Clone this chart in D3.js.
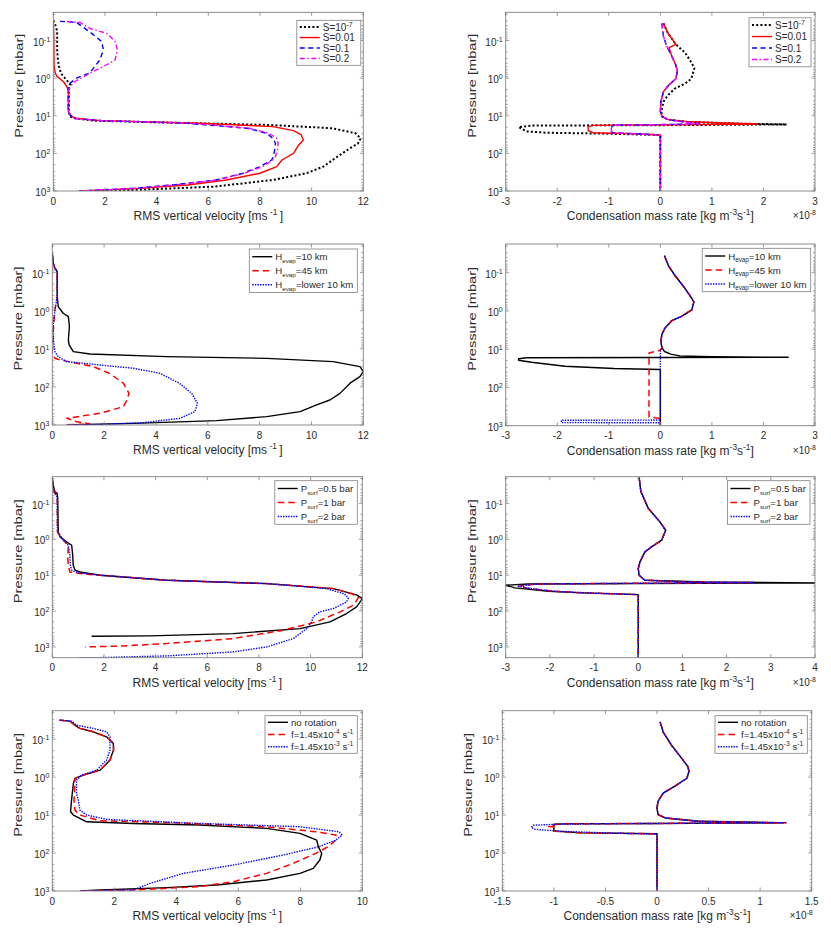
<!DOCTYPE html>
<html><head><meta charset="utf-8">
<script src="https://cdn.jsdelivr.net/npm/d3@7"></script>
<style>
body{margin:0;background:#fff}
svg{display:block}
text{font-family:"Liberation Sans",Arial,Helvetica,sans-serif;fill:#2b2b2b}
</style>
</head><body>
<svg id="c" width="831" height="941"></svg>
<script>
// ---------------- tick values ----------------
const pressureTicks = [0.1, 1, 10, 100, 1000];
const pressureExps = ["-1", "0", "1", "2", "3"];
const velTicks12 = [0, 2, 4, 6, 8, 10, 12];
const velTicks10 = [0, 2, 4, 6, 8, 10];
const condTicks3 = [-3, -2, -1, 0, 1, 2, 3];
const condTicks4 = [-3, -2, -1, 0, 1, 2, 3, 4];
const condTicks15 = [-1.5, -1, -0.5, 0, 0.5, 1, 1.5];

// ---------------- legend labels ----------------
const labelsS = [
  [{t:"S=10"},{t:"-7",sup:true}],
  [{t:"S=0.01"}],
  [{t:"S=0.1"}],
  [{t:"S=0.2"}]
];
const labelsH = [
  [{t:"H"},{t:"evap",sub:true},{t:"=10 km"}],
  [{t:"H"},{t:"evap",sub:true},{t:"=45 km"}],
  [{t:"H"},{t:"evap",sub:true},{t:"=lower 10 km"}]
];
const labelsP = [
  [{t:"P"},{t:"surf",sub:true},{t:"=0.5 bar"}],
  [{t:"P"},{t:"surf",sub:true},{t:"=1 bar"}],
  [{t:"P"},{t:"surf",sub:true},{t:"=2 bar"}]
];
const labelsF = [
  [{t:"no rotation"}],
  [{t:"f=1.45x10"},{t:"-4",sup:true},{t:" s"},{t:"-1",sup:true}],
  [{t:"f=1.45x10"},{t:"-3",sup:true},{t:" s"},{t:"-1",sup:true}]
];

// ---------------- data: [x, pressure(mbar)] ----------------
// Panel 1: RMS vertical velocity, S runs
const vel_S1e7 = [[0.0,0.0295],[0.12,0.045],[0.15,0.064],[0.15,0.18],[0.18,0.33],[0.22,0.49],[0.3,0.75],[0.45,1.0],[0.62,1.35],[0.65,1.5],[0.6,2.05],[0.6,7.8],[0.65,10.5],[0.84,11.7],[1.55,13.5],[4.4,15.2],[8.3,17.5],[10.8,21.5],[11.7,29.2],[11.9,40],[11.8,54],[11.4,80],[11.0,122],[10.45,225],[9.8,337],[8.5,510],[6.2,767],[3.1,940],[1.0,1000]];
const vel_S001 = [[0.0,0.0295],[0.02,0.1],[0.03,0.49],[0.08,0.75],[0.15,0.91],[0.39,1.23],[0.52,1.67],[0.58,2.05],[0.58,7.8],[0.65,9.5],[0.84,11.7],[1.8,13.5],[5.7,15.8],[8.5,19.4],[9.3,24.8],[9.6,32.4],[9.68,44],[9.5,59.7],[9.3,100],[8.85,150],[8.65,225],[8.0,337],[6.7,510],[5.2,690],[3.35,850],[1.16,990],[1.0,1000]];
const vel_S01 = [[0.26,0.031],[0.9,0.033],[1.55,0.07],[1.87,0.106],[1.94,0.177],[1.8,0.33],[1.42,0.72],[0.9,1.0],[0.65,1.36],[0.58,1.85],[0.58,7.8],[0.65,9.5],[0.78,11.7],[1.8,13.5],[5.16,15.8],[7.5,21.5],[8.26,29.2],[8.5,39.8],[8.6,53.8],[8.57,81],[8.52,122],[8.45,150],[8.0,225],[7.35,337],[6.3,510],[4.6,690],[3.1,850],[1.0,1000]];
const vel_S02 = [[0.52,0.031],[1.03,0.033],[1.42,0.048],[2.06,0.064],[2.39,0.106],[2.48,0.177],[2.39,0.33],[1.94,0.49],[1.3,0.82],[0.84,1.23],[0.65,1.67],[0.6,2.05],[0.6,7.8],[0.66,9.5],[0.8,11.7],[1.9,13.5],[5.3,15.8],[7.6,21.5],[8.35,29.2],[8.65,39.8],[8.7,53.8],[8.68,81],[8.6,122],[8.5,150],[8.1,225],[7.4,337],[6.35,510],[4.7,690],[3.1,850],[1.0,1000]];

// Panel 2: condensation rate (x1e-8), S runs
const cond_S1e7 = [[0.06,0.035],[0.15,0.065],[0.25,0.1],[0.3,0.127],[0.48,0.21],[0.6,0.38],[0.66,0.55],[0.6,1.04],[0.48,1.4],[0.28,1.9],[0.15,2.83],[0.06,4.2],[0.02,7.7],[0.03,10.4],[0.15,12.7],[0.5,14.5],[1.5,16.2],[2.45,17.0],[0,17.8],[-2.5,18.2],[-2.75,20],[-2.6,26],[-2.2,28.3],[-1.0,30],[0,32.5],[0,1000]];
const cond_S001 = [[0.06,0.035],[0.15,0.065],[0.25,0.1],[0.3,0.127],[0.17,0.155],[0.22,0.257],[0.3,0.45],[0.33,0.65],[0.3,1.04],[0.16,1.55],[0.06,2.3],[0.01,4.2],[0.0,7.7],[0.03,10.4],[0.15,12.7],[0.6,14.5],[1.87,16.5],[0.3,17.3],[-1.3,18.0],[-1.4,19.5],[-1.4,25],[-1.3,28.3],[-0.5,30],[0,32.5],[0,1000]];
const cond_S01 = [[0.03,0.035],[0.06,0.077],[0.12,0.14],[0.22,0.257],[0.3,0.45],[0.33,0.65],[0.3,1.04],[0.16,1.55],[0.06,2.3],[0.01,4.2],[0.0,7.7],[0.03,10.4],[0.15,12.7],[0.45,14.5],[0.8,16.3],[0.2,17.0],[-0.94,18.0],[-0.94,28.3],[-0.5,30],[0,32.5],[0,1000]];
const cond_S02 = [[0.03,0.035],[0.06,0.077],[0.12,0.14],[0.22,0.257],[0.3,0.45],[0.33,0.65],[0.3,1.04],[0.16,1.55],[0.06,2.3],[0.01,4.2],[0.0,7.7],[0.03,10.4],[0.15,12.7],[0.42,14.5],[0.75,16.3],[0.2,17.0],[-0.95,18.0],[-0.95,28.3],[-0.5,30],[0,32.5],[0,1000]];

// Panel 3: velocity, H_evap runs
const vel_H10 = [[0.0,0.032],[0.04,0.057],[0.1,0.077],[0.19,0.094],[0.19,0.43],[0.23,0.78],[0.42,1.17],[0.62,1.43],[0.66,2.6],[0.62,5.9],[0.65,7.9],[0.81,11.9],[1.45,13.7],[4.41,16.1],[8.27,17.8],[10.84,21.7],[11.87,29.4],[12.0,39.8],[11.87,53.8],[11.49,80],[11.1,148],[10.71,221],[10.2,298],[9.56,447],[8.27,604],[6.34,770],[3.13,904],[0.55,990]];
const vel_H45 = [[0.0,0.032],[0.04,0.057],[0.1,0.077],[0.19,0.094],[0.19,0.43],[0.1,0.955],[0.04,3.2],[0.0,13.7],[0.1,17.8],[0.3,19.6],[0.94,24],[1.58,29.4],[2.2,44],[2.74,80],[2.96,147],[2.88,221],[2.74,331],[1.84,493],[0.56,667],[0.94,819],[1.33,902],[1.45,940],[0.42,1000]];
const vel_Hlow = [[0.0,0.032],[0.04,0.057],[0.1,0.077],[0.19,0.094],[0.19,0.43],[0.1,0.955],[0.04,2.14],[0.04,5.9],[0.1,11.9],[0.23,16.1],[0.55,21.7],[1.84,26.6],[3.13,32.5],[4.15,44],[4.9,80],[5.38,148],[5.6,269],[5.5,447],[4.93,668],[3.51,870],[1.84,960],[0.55,1000]];

// Panel 4: condensation, H_evap runs
const cond_H10 = [[0.08,0.036],[0.155,0.065],[0.28,0.117],[0.48,0.26],[0.61,0.47],[0.65,0.59],[0.61,0.94],[0.41,1.39],[0.22,1.8],[0.09,2.79],[0.03,4.1],[0.01,6.2],[0.03,9.1],[0.08,11.5],[0.2,13.5],[0.38,15],[1.0,15.8],[2.48,16.3],[0,16.5],[-2.6,16.8],[-2.75,17.8],[-2.75,19.5],[-2.5,22],[-1.85,28],[-0.9,32],[0,34],[0,1000]];
const cond_H45 = [[0.08,0.036],[0.155,0.065],[0.28,0.117],[0.48,0.26],[0.61,0.47],[0.65,0.59],[0.61,0.94],[0.41,1.39],[0.22,1.8],[0.09,2.79],[0.03,4.1],[0.01,6.2],[0.03,9.1],[0.0,10.5],[-0.1,11.5],[-0.22,12.5],[-0.22,590],[-0.1,620],[0,640],[0,1000]];
const cond_Hlow = [[0.08,0.036],[0.155,0.065],[0.28,0.117],[0.48,0.26],[0.61,0.47],[0.65,0.59],[0.61,0.94],[0.41,1.39],[0.22,1.8],[0.09,2.79],[0.03,4.1],[0.01,6.2],[0.03,9.1],[0.0,11.1],[0,712],[-1.92,720],[-1.92,830],[0,840],[0,1000]];

// Panel 5: velocity, surface pressure runs
const vel_P05 = [[0.0,0.02],[0.04,0.031],[0.1,0.047],[0.19,0.052],[0.21,0.073],[0.23,0.62],[0.3,0.85],[0.55,1.17],[0.75,1.46],[0.79,2.77],[0.81,5.3],[0.88,7.2],[1.07,8.1],[1.85,10],[4.43,13.8],[8.3,17.1],[10.88,23.6],[11.8,36],[12.0,44.8],[11.78,76.5],[11.39,117],[10.75,200],[9.59,308],[7.0,425],[3.78,493],[1.52,504]];
const vel_P1 = [[0.0,0.02],[0.03,0.035],[0.08,0.05],[0.17,0.06],[0.19,0.073],[0.2,0.62],[0.43,1.05],[0.62,1.46],[0.6,3.5],[0.62,5.3],[0.68,8.1],[1.07,9.0],[1.85,10],[4.43,13.8],[8.3,17.1],[10.88,23.6],[11.6,33],[11.85,43],[11.65,68.7],[11.14,105],[10.23,200],[8.94,343],[7.0,585],[4.43,807],[2.49,957],[1.26,1000]];
const vel_P2 = [[0.0,0.02],[0.03,0.035],[0.08,0.05],[0.17,0.06],[0.19,0.073],[0.2,0.62],[0.43,1.05],[0.62,1.46],[0.68,2.77],[0.7,5.3],[0.75,7.2],[1.0,8.5],[1.85,10],[4.43,13.8],[8.3,17.1],[10.6,23.6],[11.3,33],[11.46,43],[11.39,55.5],[10.88,85],[10.36,105],[10.1,145],[10.04,200],[9.85,308],[9.33,585],[8.3,1000],[7.0,1380],[4.43,1783],[1.85,1986],[1.0,2000]];

// Panel 6: condensation, surface pressure runs
const cond_P05 = [[0.02,0.019],[0.06,0.047],[0.23,0.138],[0.49,0.325],[0.62,0.555],[0.53,1.05],[0.3,1.62],[0.15,2.23],[0.04,4.25],[0.0,6.5],[0.02,10],[0.15,13.8],[1.5,15.5],[4.0,16.4],[0,17],[-2.5,17.5],[-3.0,19],[-2.79,22.5],[-2.03,28],[-1.28,31],[0,34.7],[0,2000]];
const cond_P1 = [[0.02,0.019],[0.06,0.047],[0.23,0.138],[0.49,0.325],[0.62,0.555],[0.53,1.05],[0.3,1.62],[0.15,2.23],[0.04,4.25],[0.0,6.5],[0.02,10],[0.15,13.8],[1.2,15.5],[2.6,16],[0,16.8],[-2.3,17.5],[-2.71,20.3],[-2.5,23],[-1.9,28],[-1.2,31],[0,34.7],[0,2000]];
const cond_P2 = [[0.02,0.019],[0.06,0.047],[0.23,0.138],[0.49,0.325],[0.62,0.555],[0.53,1.05],[0.3,1.62],[0.15,2.23],[0.04,4.25],[0.0,6.5],[0.02,10],[0.15,13.8],[1.2,15.5],[2.62,16],[0,16.8],[-2.3,17.5],[-2.71,20.3],[-2.5,23],[-1.9,28],[-1.2,31],[0,34.7],[0,2000]];

// Panel 7: velocity, rotation runs
const vel_noRot = [[0.23,0.0316],[0.57,0.0336],[0.73,0.043],[0.89,0.052],[1.32,0.064],[1.75,0.087],[1.97,0.13],[1.97,0.195],[1.86,0.357],[1.54,0.655],[1.0,0.885],[0.73,1.08],[0.68,1.47],[0.62,4.03],[0.59,8.2],[0.68,10],[1.11,15],[2.61,16.6],[4.76,18.3],[6.91,22.4],[7.99,30.4],[8.53,45.5],[8.58,68],[8.69,102],[8.63,153],[8.42,253],[7.99,343],[6.91,513],[5.3,695],[3.69,817],[1.54,941],[0.89,1000]];
const vel_f4 = [[0.23,0.0316],[0.57,0.0336],[0.73,0.043],[0.89,0.052],[1.32,0.064],[1.75,0.087],[1.98,0.13],[1.98,0.195],[1.86,0.357],[1.54,0.655],[1.0,0.885],[0.73,1.08],[0.73,1.47],[0.7,4.03],[0.73,7.4],[0.89,10],[1.54,14.1],[4.0,16.0],[6.91,20.3],[8.5,27.5],[9.15,33.6],[9.15,45.5],[8.9,68],[8.5,102],[7.77,187],[6.91,343],[5.84,568],[4.76,769],[2.61,941],[0.89,1000]];
const vel_f3 = [[0.25,0.0316],[0.62,0.0336],[0.78,0.043],[1.32,0.052],[1.75,0.064],[1.86,0.087],[1.86,0.195],[1.75,0.357],[1.43,0.655],[0.95,0.885],[0.78,1.2],[0.78,2.69],[0.84,4.03],[0.89,7.4],[1.11,10],[1.75,13],[4.76,16.6],[7.99,20.3],[9.25,27.5],[9.35,33.6],[9.15,45.5],[8.6,68],[7.45,113],[5.84,207],[4.23,343],[3.15,630],[2.61,941],[0.89,1000]];

// Panel 8: condensation, rotation runs
const cond_noRot = [[0.03,0.035],[0.06,0.065],[0.14,0.144],[0.24,0.32],[0.3,0.53],[0.31,0.71],[0.29,1.07],[0.17,1.76],[0.06,2.63],[0.01,4.35],[0.0,6.5],[0.01,9.7],[0.08,11.9],[0.4,14.5],[1.22,16.0],[0,16.6],[-0.9,17.0],[-1.0,17.5],[-1.0,26.5],[-0.73,29.5],[0,31],[0,1000]];
const cond_f4 = [[0.03,0.035],[0.06,0.065],[0.14,0.144],[0.24,0.32],[0.3,0.53],[0.31,0.71],[0.29,1.07],[0.17,1.76],[0.06,2.63],[0.01,4.35],[0.0,6.5],[0.01,9.7],[0.08,11.9],[0.4,14.5],[1.25,16.0],[0,16.6],[-0.9,17.0],[-1.05,18.5],[-1.05,20],[-1.0,20.5],[-1.0,26.5],[-0.73,29.5],[0,31],[0,1000]];
const cond_f3 = [[0.03,0.035],[0.06,0.065],[0.14,0.144],[0.24,0.32],[0.3,0.53],[0.31,0.71],[0.29,1.07],[0.17,1.76],[0.06,2.63],[0.01,4.35],[0.0,6.5],[0.01,9.7],[0.08,11.9],[0.4,14.5],[1.25,16.0],[0,16.6],[-0.9,17.2],[-1.2,18.5],[-1.22,21],[-1.18,23.9],[-0.89,27],[-0.4,30],[0,31.5],[0,1000]];

// ---------------- styles ----------------
const ST = {
  blackDotThick: {color:"#000", w:2.0, dash:"2,2.2"},
  redSolid: {color:"#ff0000", w:1.4, dash:null},
  blueDash: {color:"#0000ff", w:1.4, dash:"5,3.5"},
  magDashDot: {color:"#ff00ff", w:1.4, dash:"5,2.5,1.5,2.5"},
  blackSolid: {color:"#000", w:1.4, dash:null},
  redDash: {color:"#ff0000", w:1.5, dash:"6.5,4"},
  blueDot: {color:"#0000ff", w:1.4, dash:"1.4,1.2"}
};

const svg = d3.select("#c");

function rich(sel, segs, size) {
  let shift = 0;
  segs.forEach(s => {
    let target = 0, fs = size;
    if (s.sup) { target = -size * 0.4; fs = size * 0.7; }
    if (s.sub) { target = size * 0.28; fs = size * 0.65; }
    sel.append("tspan").attr("font-size", fs.toFixed(2)).attr("dy", (target - shift).toFixed(2)).text(s.t);
    shift = target;
  });
}

const velLabel = [{t:"RMS vertical velocity [ms"},{t:" -1 ",sup:true},{t:"]"}];
const condLabel = [{t:"Condensation mass rate [kg m"},{t:"-3",sup:true},{t:"s"},{t:"-1",sup:true},{t:"]"}];

function panel(cfg, idx) {
  const [x0, x1, y0, y1] = cfg.box;
  const x = d3.scaleLinear().domain(cfg.xDomain).range([x0, x1]);
  const y = d3.scaleLog().domain(cfg.yDomain).range([y0, y1]);
  const g = svg.append("g");
  const cid = "clip" + idx;
  svg.append("clipPath").attr("id", cid).append("rect")
    .attr("x", x0).attr("y", y0).attr("width", x1 - x0).attr("height", y1 - y0);
  const line = d3.line().x(d => x(d[0])).y(d => y(d[1]));
  const cg = g.append("g").attr("clip-path", `url(#${cid})`);
  cfg.series.forEach(s => {
    cg.append("path").datum(s.data).attr("d", line).attr("fill", "none")
      .attr("stroke", s.st.color).attr("stroke-width", s.st.w)
      .attr("stroke-dasharray", s.st.dash).attr("stroke-linejoin", "round");
  });
  const axc = "#808080";
  g.append("rect").attr("x", x0).attr("y", y0).attr("width", x1 - x0).attr("height", y1 - y0)
    .attr("fill", "none").attr("stroke", axc).attr("stroke-width", 0.9);
  cfg.xTicks.forEach(v => {
    const px = x(v);
    g.append("line").attr("x1", px).attr("x2", px).attr("y1", y1).attr("y2", y1 - 3.5).attr("stroke", axc).attr("stroke-width", 0.8);
    g.append("line").attr("x1", px).attr("x2", px).attr("y1", y0).attr("y2", y0 + 3.5).attr("stroke", axc).attr("stroke-width", 0.8);
    g.append("text").attr("x", px).attr("y", y1 + 13.5).attr("text-anchor", "middle")
      .attr("font-size", 10).text(String(v));
  });
  y.ticks().forEach(v => {
    const lv = Math.log10(v);
    const major = Math.abs(lv - Math.round(lv)) < 1e-6;
    const len = major ? 3.5 : 2;
    const py = y(v);
    g.append("line").attr("x1", x0).attr("x2", x0 + len).attr("y1", py).attr("y2", py).attr("stroke", axc).attr("stroke-width", 0.7);
    g.append("line").attr("x1", x1).attr("x2", x1 - len).attr("y1", py).attr("y2", py).attr("stroke", axc).attr("stroke-width", 0.7);
  });
  pressureTicks.forEach((v, i) => {
    const t = g.append("text").attr("x", x0 - 3).attr("y", y(v) + 5).attr("text-anchor", "end").attr("font-size", 10);
    rich(t, [{t:"10"},{t:pressureExps[i],sup:true}], 10);
  });
  const xl = g.append("text").attr("x", (x0 + x1) / 2).attr("y", y1 + 29).attr("text-anchor", "middle").attr("font-size", 12);
  rich(xl, cfg.cond ? condLabel : velLabel, 12);
  if (cfg.cond) {
    const ex = g.append("text").attr("x", x1 + 1).attr("y", y1 + 28).attr("text-anchor", "end").attr("font-size", 10);
    rich(ex, [{t:"\u00d710"},{t:"-8",sup:true}], 10);
  }
  g.append("text").attr("transform", `translate(${x0 - 30},${(y0 + y1) / 2 - 16}) rotate(-90)`)
    .attr("text-anchor", "middle").attr("font-size", 11.5)
    .attr("textLength", 104).attr("lengthAdjust", "spacingAndGlyphs").text("Pressure [mbar]");
  // legend (box width taken from the reference layout; font shrinks to fit)
  const L = cfg.legend;
  const lg = g.append("g");
  const bw = L.width;
  const avail = bw - 30;
  let fs = 10;
  const probe = lg.append("g");
  let tw = d3.max(cfg.series, (s, i) => {
    const t = probe.append("text").attr("font-size", fs);
    rich(t, L.labels[i], fs);
    return t.node().getComputedTextLength();
  });
  probe.remove();
  if (tw > avail) fs = fs * avail / tw;
  const bh = L.pad * 2 + cfg.series.length * L.rowH;
  const bx = x1 - L.right - bw, by = y0 + L.top;
  lg.append("rect").attr("x", bx).attr("y", by).attr("width", bw).attr("height", bh)
    .attr("fill", "#fff").attr("stroke", axc).attr("stroke-width", 0.8);
  cfg.series.forEach((s, i) => {
    const cy = by + L.pad + L.rowH * (i + 0.5);
    lg.append("line").attr("x1", bx + 3).attr("x2", bx + 23).attr("y1", cy).attr("y2", cy)
      .attr("stroke", s.st.color).attr("stroke-width", s.st.w).attr("stroke-dasharray", s.st.dash);
    const t = lg.append("text").attr("font-size", fs.toFixed(2)).attr("x", bx + 26).attr("y", cy + 3.5);
    rich(t, L.labels[i], fs);
  });
}

const yTop = 0.0178;
const panels = [
  {box:[53.3,363.3,12.3,191], xDomain:[0,12], yDomain:[yTop,1000], xTicks:velTicks12, cond:false,
   series:[{data:vel_S1e7,st:ST.blackDotThick},{data:vel_S001,st:ST.redSolid},{data:vel_S01,st:ST.blueDash},{data:vel_S02,st:ST.magDashDot}],
   legend:{labels:labelsS, width:64, right:2.5, top:8, rowH:10.5, pad:1.5}},
  {box:[505.7,815,12.3,191], xDomain:[-3,3], yDomain:[yTop,1000], xTicks:condTicks3, cond:true,
   series:[{data:cond_S1e7,st:ST.blackDotThick},{data:cond_S001,st:ST.redSolid},{data:cond_S01,st:ST.blueDash},{data:cond_S02,st:ST.magDashDot}],
   legend:{labels:labelsS, width:62, right:4, top:5.5, rowH:11.5, pad:1.5}},
  {box:[52.3,363.3,244,425], xDomain:[0,12], yDomain:[yTop,1000], xTicks:velTicks12, cond:false,
   series:[{data:vel_H10,st:ST.blackSolid},{data:vel_H45,st:ST.redDash},{data:vel_Hlow,st:ST.blueDot}],
   legend:{labels:labelsH, width:108, right:6, top:5, rowH:14, pad:0.7}},
  {box:[505.7,815,244,425.7], xDomain:[-3,3], yDomain:[yTop,1000], xTicks:condTicks3, cond:true,
   series:[{data:cond_H10,st:ST.blackSolid},{data:cond_H45,st:ST.redDash},{data:cond_Hlow,st:ST.blueDot}],
   legend:{labels:labelsH, width:108.5, right:4.3, top:4.3, rowH:14, pad:0.7}},
  {box:[52.3,362.3,476.7,657.7], xDomain:[0,12], yDomain:[yTop,2000], xTicks:velTicks12, cond:false,
   series:[{data:vel_P05,st:ST.blackSolid},{data:vel_P1,st:ST.redDash},{data:vel_P2,st:ST.blueDot}],
   legend:{labels:labelsP, width:82.5, right:5, top:4, rowH:14, pad:0.8}},
  {box:[505.7,815,476.7,657.7], xDomain:[-3,4], yDomain:[yTop,2000], xTicks:condTicks4, cond:true,
   series:[{data:cond_P05,st:ST.blackSolid},{data:cond_P1,st:ST.redDash},{data:cond_P2,st:ST.blueDot}],
   legend:{labels:labelsP, width:82.5, right:5, top:4, rowH:14, pad:0.8}},
  {box:[52.3,362.3,710.7,891], xDomain:[0,10], yDomain:[yTop,1000], xTicks:velTicks10, cond:false,
   series:[{data:vel_noRot,st:ST.blackSolid},{data:vel_f4,st:ST.redDash},{data:vel_f3,st:ST.blueDot}],
   legend:{labels:labelsF, width:92.3, right:5, top:5, rowH:12.2, pad:0.5}},
  {box:[502.3,811.7,710.7,891], xDomain:[-1.5,1.5], yDomain:[yTop,1000], xTicks:condTicks15, cond:true,
   series:[{data:cond_noRot,st:ST.blackSolid},{data:cond_f4,st:ST.redDash},{data:cond_f3,st:ST.blueDot}],
   legend:{labels:labelsF, width:92.3, right:4.4, top:5, rowH:12.2, pad:0.5}}
];
panels.forEach((p, i) => panel(p, i));
</script>
</body></html>
